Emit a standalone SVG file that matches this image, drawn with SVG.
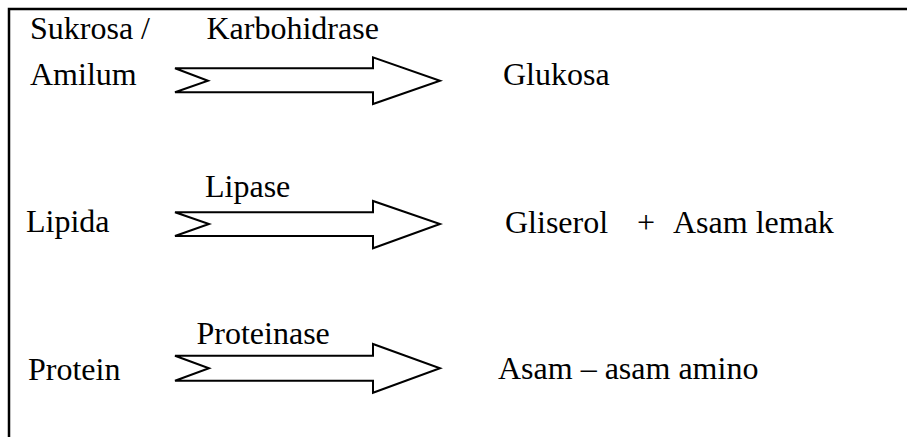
<svg xmlns="http://www.w3.org/2000/svg" width="907" height="437" viewBox="0 0 907 437">
<style>
text{font-size:32px;fill:#000}
.arrow{fill:#fff;stroke:#000;stroke-width:2;stroke-linejoin:miter}
.frame{fill:none;stroke:#000;stroke-width:2.5}
</style>
<rect width="907" height="437" fill="#fff"/>
<path class="frame" d="M9,437 V9 H907"/>
<g font-family="'Liberation Serif', 'Times New Roman', 'DejaVu Serif', serif">
<g id="connectors">
<polygon class="arrow" points="175,68.3 373,68.3 373,57.3 440,80.7 373,104 373,92.3 175,92.3 208,80.7"/>
<polygon class="arrow" points="175,212.3 373,212.3 373,201 440,224 373,248.3 373,236 175,236 209,224"/>
<polygon class="arrow" points="175,355.7 373,355.7 373,344 440,368.3 373,392.7 373,380.7 175,380.7 209,368.3"/>
<text x="206.5" y="39">Karbohidrase</text>
<text x="205" y="196.5">Lipase</text>
<text x="196.5" y="343.5">Proteinase</text>
</g>
<g id="sukrosa"><text x="30" y="39">Sukrosa /</text><text x="30" y="85">Amilum</text></g>
<g id="glukosa"><text x="503" y="85">Glukosa</text></g>
<g id="lipida"><text x="26" y="232">Lipida</text></g>
<g id="gliserol"><text x="505" y="232.5">Gliserol</text><text x="637" y="232.5">+</text><text x="673" y="232.5">Asam lemak</text></g>
<g id="protein"><text x="28" y="380">Protein</text></g>
<g id="asam-amino"><text x="498" y="378.5">Asam – asam amino</text></g>
</g>
</svg>
